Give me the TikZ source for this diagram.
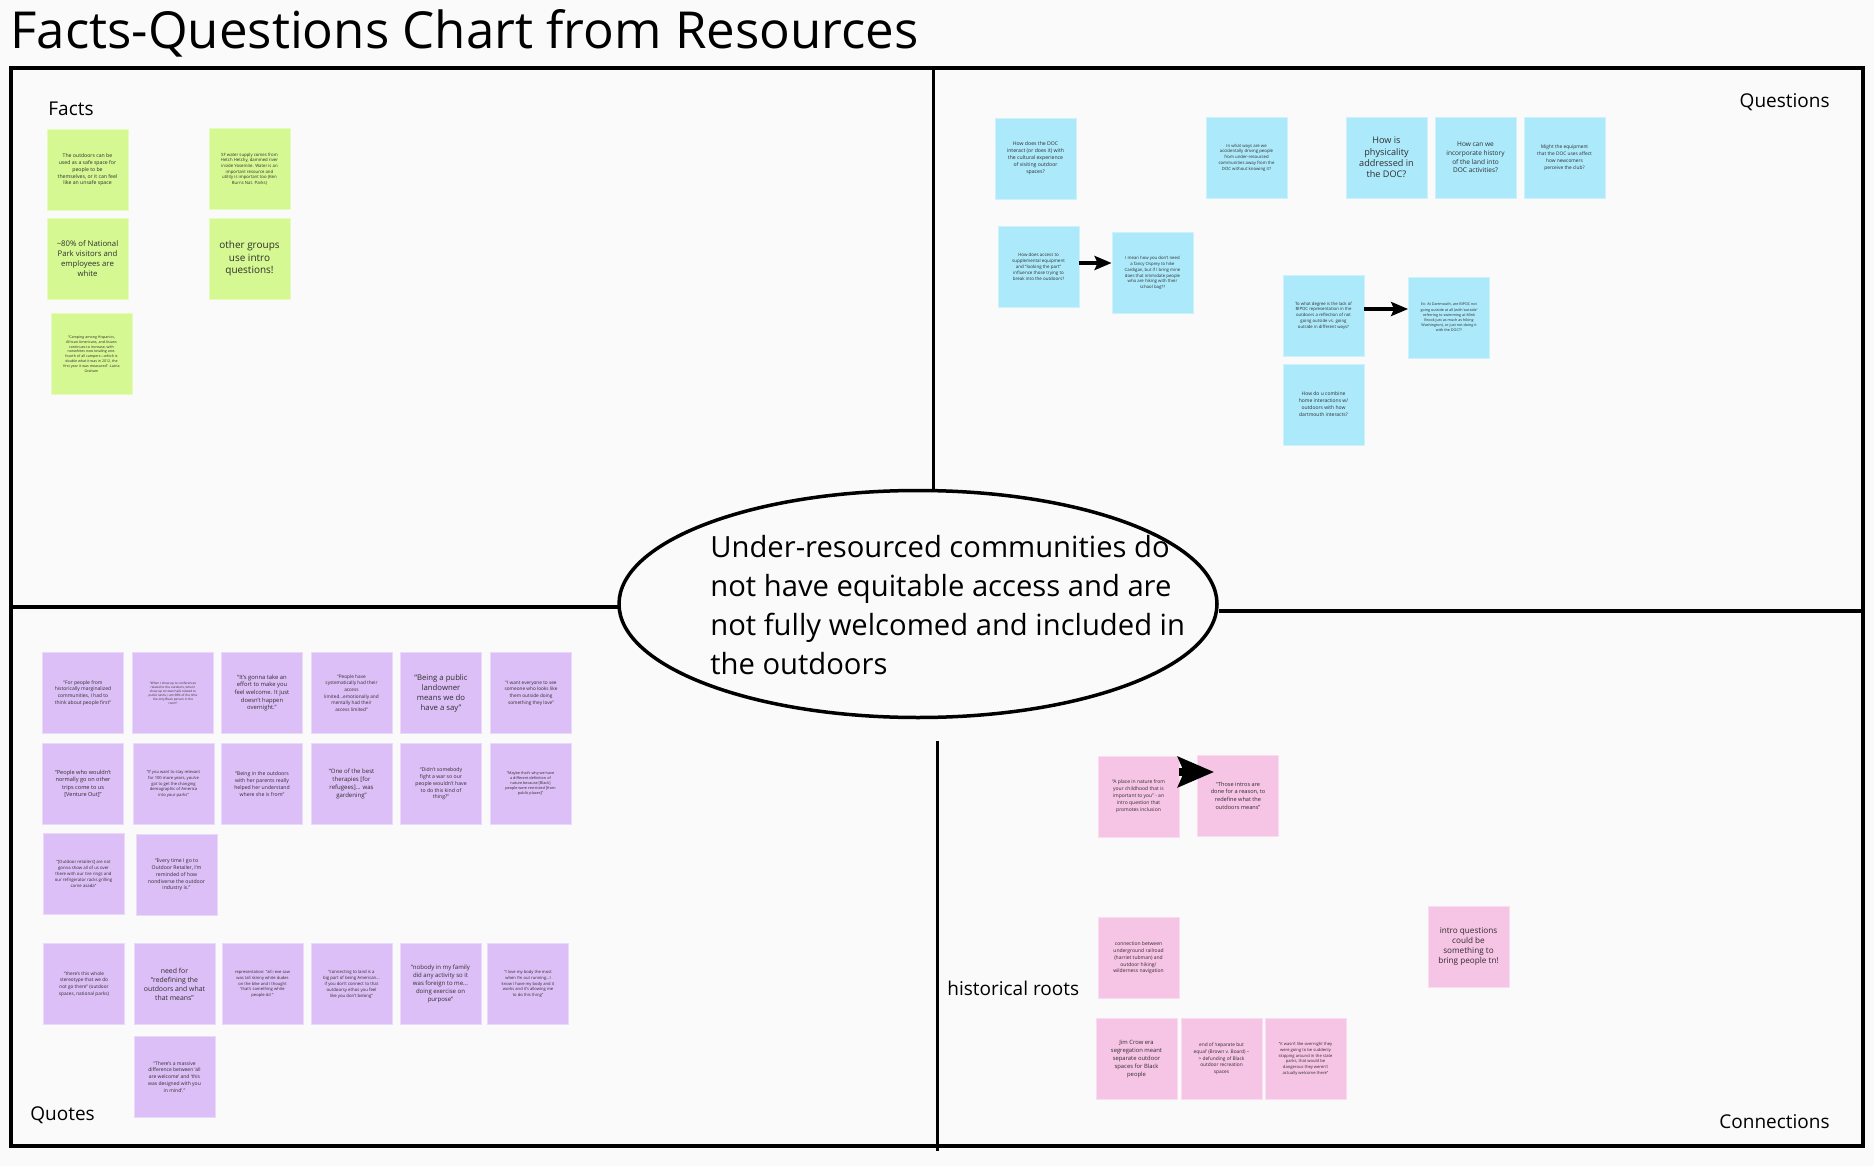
\documentclass[tikz,border=0pt]{standalone}
\usepackage{fontspec}
\setmainfont{Open Sans}
\usetikzlibrary{arrows.meta,shapes.geometric,calc}
\definecolor{bg}{HTML}{FAFAFA}
\definecolor{gfill}{HTML}{D6F892}
\definecolor{bfill}{HTML}{ACE9FA}
\definecolor{pfill}{HTML}{DCBFF6}
\definecolor{kfill}{HTML}{F6C4E4}
\definecolor{ink}{HTML}{2E2E2E}
\newcommand{\fz}[2]{\fontsize{#1}{#2}\selectfont}
\newcommand{\sz}[2]{\fontsize{\fpeval{#1*0.86}pt}{#2pt}\selectfont}
\begin{document}
\begin{tikzpicture}[x=0.5pt,y=-0.5pt,
  sticky/.style={minimum width=40.5pt,minimum height=40.5pt,inner sep=0pt,align=center,text=ink},
  gs/.style={sticky,fill=gfill,draw=gfill!60!white,line width=0.4pt},
  bs/.style={sticky,fill=bfill,draw=bfill!60!white,line width=0.4pt},
  ps/.style={sticky,fill=pfill,draw=pfill!60!white,line width=0.4pt},
  ks/.style={sticky,fill=kfill,draw=kfill!60!white,line width=0.4pt},
  lbl/.style={inner sep=0pt,font=\fz{9.5}{12},text=black},
  frame/.style={line width=1.75pt,draw=black},
  arr/.style={line width=2pt,-{Stealth[length=8.5pt,width=7pt,inset=1.5pt]}},
  bigarr/.style={line width=4pt,-{Stealth[length=18pt,width=15pt,inset=3pt]}}]
\fill[bg] (0,0) rectangle (1874,1166);
\useasboundingbox (0,0) rectangle (1874,1166);

% title
\node[anchor=base west,inner sep=0pt,font=\fz{25.5}{30}] (title) at (10,49) {Facts-Questions Chart from Resources};

% frame and dividers
\draw[frame] (11,68) rectangle (1863,1146);
\node[draw,ellipse,line width=1.75pt,minimum width=299pt,minimum height=113.5pt,fill=bg] (core) at (918,604) {};
\draw[frame] (933.5,68) -- (933.5,490);
\draw[frame] (937.5,741) -- (937.5,1151);
\draw[frame] (11,607) -- (621,607);
\draw[frame] (1219,611) -- (1863,611);
\node[anchor=west,align=left,inner sep=0pt,font=\fz{14.6}{19.5}] (coretext) at (710,605) {Under-resourced communities do\\not have equitable access and are\\not fully welcomed and included in\\the outdoors};

% labels
\node[lbl,anchor=west] (facts) at (48,109) {Facts};
\node[lbl,anchor=east] (questions) at (1830,102) {Questions};
\node[lbl,anchor=west] (quotes) at (30,1115) {Quotes};
\node[lbl,anchor=east] (connections) at (1830,1122) {Connections};
\node[lbl,anchor=west] (hist) at (947,988) {historical roots};

% Facts
\node[gs,font={\sz{3}{3.4}}] (f1) at (87.5,170) {The outdoors can be\\used as a safe space for\\people to be\\themselves, or it can feel\\like an unsafe space};
\node[gs,font={\sz{2.5}{2.85}}] (f2) at (249.5,169) {SF water supply comes from\\Hetch Hetchy, dammed river\\inside Yosemite. Water is an\\important resource and\\utility is important too (Ken\\Burns Nat. Parks)};
\node[gs,font={\sz{4.5}{5}}] (f3) at (87.5,259) {\textasciitilde80\% of National\\Park visitors and\\employees are\\white};
\node[gs,font={\sz{5.8}{6.2}}] (f4) at (249.5,258.5) {other groups\\use intro\\questions!};
\node[gs,font={\sz{2.1}{2.4}}] (f5) at (91.5,354) {``Camping among Hispanics,\\African Americans, and Asians\\continues to increase, with\\nonwhites now totaling one-\\fourth of all campers---which is\\double what it was in 2012, the\\first year it was measured'' -Latria\\Graham};

% Questions
\node[bs,font={\sz{3}{3.5}}] (qa) at (1035.5,158.5) {How does the DOC\\interact (or does it) with\\the cultural experience\\of visiting outdoor\\spaces?};
\node[bs,font={\sz{2.5}{2.9}}] (qb) at (1246.5,157.5) {In what ways are we\\accidentally driving people\\from under-resourced\\communities away from the\\DOC without knowing it?};
\node[bs,font={\sz{5.3}{5.65}}] (qc) at (1386.5,157.5) {How is\\physicality\\addressed in\\the DOC?};
\node[bs,font={\sz{3.8}{4.35}}] (qd) at (1475.5,157.5) {How can we\\incorporate history\\of the land into\\DOC activities?};
\node[bs,font={\sz{2.8}{3.5}}] (qe) at (1564.5,157.5) {Might the equipment\\that the DOC uses affect\\how newcomers\\perceive the club?};
\node[bs,font={\sz{2.6}{3}}] (qf) at (1038.5,266.5) {How does access to\\supplemental equipment\\and ``looking the part''\\influence those trying to\\break into the outdoors?};
\node[bs,font={\sz{2.5}{2.9}}] (qg) at (1152.5,273) {I mean how you don't need\\a fancy Osprey to hike\\Cardigan, but if I bring mine\\does that intimidate people\\who are hiking with their\\school bag??};
\node[bs,font={\sz{2.5}{2.85}}] (qh) at (1323.5,315.5) {To what degree is the lack of\\BIPOC representation in the\\outdoors a reflection of not\\going outside vs. going\\outside in different ways?};
\node[bs,font={\sz{2.15}{2.6}}] (qi) at (1449,317.5) {Ex: At Dartmouth, are BIPOC not\\going outside at all (with `outside'\\referring to swimming at Mink\\Brook just as much as hiking\\Washington), or just not doing it\\with the DOC??};
\node[bs,font={\sz{2.9}{3.5}}] (qj) at (1323.5,404.5) {How do u combine\\home interactions w/\\outdoors with how\\dartmouth interacts?};
\draw[arr] ([yshift=1.75pt]qf.east) -- ([yshift=1.75pt]qf.east -| qg.west);
\draw[arr] ([yshift=3.25pt]qh.east) -- ([yshift=3.25pt]qh.east -| qi.west);

% Quotes row 1
\node[ps,font={\sz{2.9}{3.35}}] (u1) at (83,693) {``For people from\\historically marginalized\\communities, I had to\\think about people first''};
\node[ps,font={\sz{1.8}{2}}] (u2) at (173,693) {``When I show up to conferences\\related to the outdoors, when I\\show up to town halls related to\\public lands, I am 98\% of the time\\the only Black person in the\\room''};
\node[ps,font={\sz{3.4}{3.85}}] (u3) at (262,693) {``It's gonna take an\\effort to make you\\feel welcome. It just\\doesn't happen\\overnight.''};
\node[ps,font={\sz{2.75}{3.35}}] (u4) at (351.5,693) {``People have\\systematically had their\\access\\limited...emotionally and\\mentally had their\\access limited''};
\node[ps,font={\sz{4.5}{5}}] (u5) at (441,693) {``Being a public\\landowner\\means we do\\have a say''};
\node[ps,font={\sz{2.75}{3.35}}] (u6) at (531,693) {``I want everyone to see\\someone who looks like\\them outside doing\\something they love''};
% row 2
\node[ps,font={\sz{3.25}{3.75}}] (u7) at (83,784) {``People who wouldn't\\normally go on other\\trips come to us\\{}[Venture Out]''};
\node[ps,font={\sz{2.4}{2.85}}] (u8) at (173.5,784) {``If you want to stay relevant\\for 100 more years, you've\\got to get the changing\\demographic of America\\into your parks''};
\node[ps,font={\sz{3}{3.5}}] (u9) at (262,784) {``Being in the outdoors\\with her parents really\\helped her understand\\where she is from''};
\node[ps,font={\sz{3.5}{4}}] (u10) at (351.5,784) {``One of the best\\therapies [for\\refugees]... was\\gardening''};
\node[ps,font={\sz{3}{3.4}}] (u11) at (441,784) {``Didn't somebody\\fight a war so our\\people wouldn't have\\to do this kind of\\thing?''};
\node[ps,font={\sz{2.2}{2.5}}] (u12) at (530.5,784) {``Maybe that's why we have\\a different definition of\\nature because [Black]\\people were restricted [from\\public places]''};
% row 3
\node[ps,font={\sz{2.5}{3}}] (u13) at (83.5,874) {``[Outdoor retailers] are not\\gonna show all of us over\\there with our tire rings and\\our refrigerator racks grilling\\carne asada''};
\node[ps,font={\sz{3}{3.4}}] (u14) at (176.5,875) {``Every time I go to\\Outdoor Retailer, I'm\\reminded of how\\nondiverse the outdoor\\industry is.''};
% row 4
\node[ps,font={\sz{2.75}{3.4}}] (u15) at (84,984) {``there's this whole\\stereotype that we do\\not go there'' (outdoor\\spaces, national parks)};
\node[ps,font={\sz{4}{4.5}}] (u16) at (174.5,984) {need for\\``redefining the\\outdoors and what\\that means''};
\node[ps,font={\sz{2.4}{2.95}}] (u17) at (262.5,984) {representation: ``all i eve saw\\was tall skinny white dudes\\on the bike and I thought\\`that's something white\\people do'\,''};
\node[ps,font={\sz{2.5}{3}}] (u18) at (351.5,984) {``connecting to land is a\\big part of being American...\\if you don't connect to that\\outdoorsy ethos you feel\\like you don't belong''};
\node[ps,font={\sz{3.5}{4}}] (u19) at (440.5,984) {``nobody in my family\\did any activity so it\\was foreign to me...\\doing exercise on\\purpose''};
\node[ps,font={\sz{2.4}{2.95}}] (u20) at (528,984) {``I love my body the most\\when I'm out running...I\\know I have my body and it\\works and it's allowing me\\to do this thing''};
% row 5
\node[ps,font={\sz{2.9}{3.45}}] (u21) at (174.5,1077) {``There's a massive\\difference between `all\\are welcome' and `this\\was designed with you\\in mind'.''};

% Connections
\node[ks,font={\sz{2.9}{3.5}}] (c1) at (1138.5,796.5) {``A place in nature from\\your childhood that is\\important to you'' - an\\intro question that\\promotes inclusion};
\node[ks,font={\sz{3.25}{3.85}}] (c2) at (1238,795.5) {``Those intros are\\done for a reason, to\\redefine what the\\outdoors means''};
\draw[bigarr] ([yshift=12.25pt]c1.east) -- ($([yshift=12.25pt]c1.east -| c2.west)+(17,0)$);
\node[ks,font={\sz{2.9}{3.35}}] (c3) at (1138.5,958) {connection between\\underground railroad\\(harriet tubman) and\\outdoor hiking/\\wilderness navigation};
\node[ks,font={\sz{4.75}{5.15}}] (c4) at (1468.5,946.5) {intro questions\\could be\\something to\\bring people tn!};
\node[ks,font={\sz{3.4}{3.9}}] (c5) at (1136.5,1059) {Jim Crow era\\segregation meant\\separate outdoor\\spaces for Black\\people};
\node[ks,font={\sz{2.8}{3.35}}] (c6) at (1221.5,1059) {end of `separate but\\equal' (Brown v. Board) --\\> defunding of Black\\outdoor recreation\\spaces};
\node[ks,font={\sz{2.4}{2.9}}] (c7) at (1305.5,1059) {``it wasn't like overnight they\\were going to be suddenly\\skipping around in the state\\parks, that would be\\dangerous they weren't\\actually welcome there''};
\end{tikzpicture}
\end{document}
